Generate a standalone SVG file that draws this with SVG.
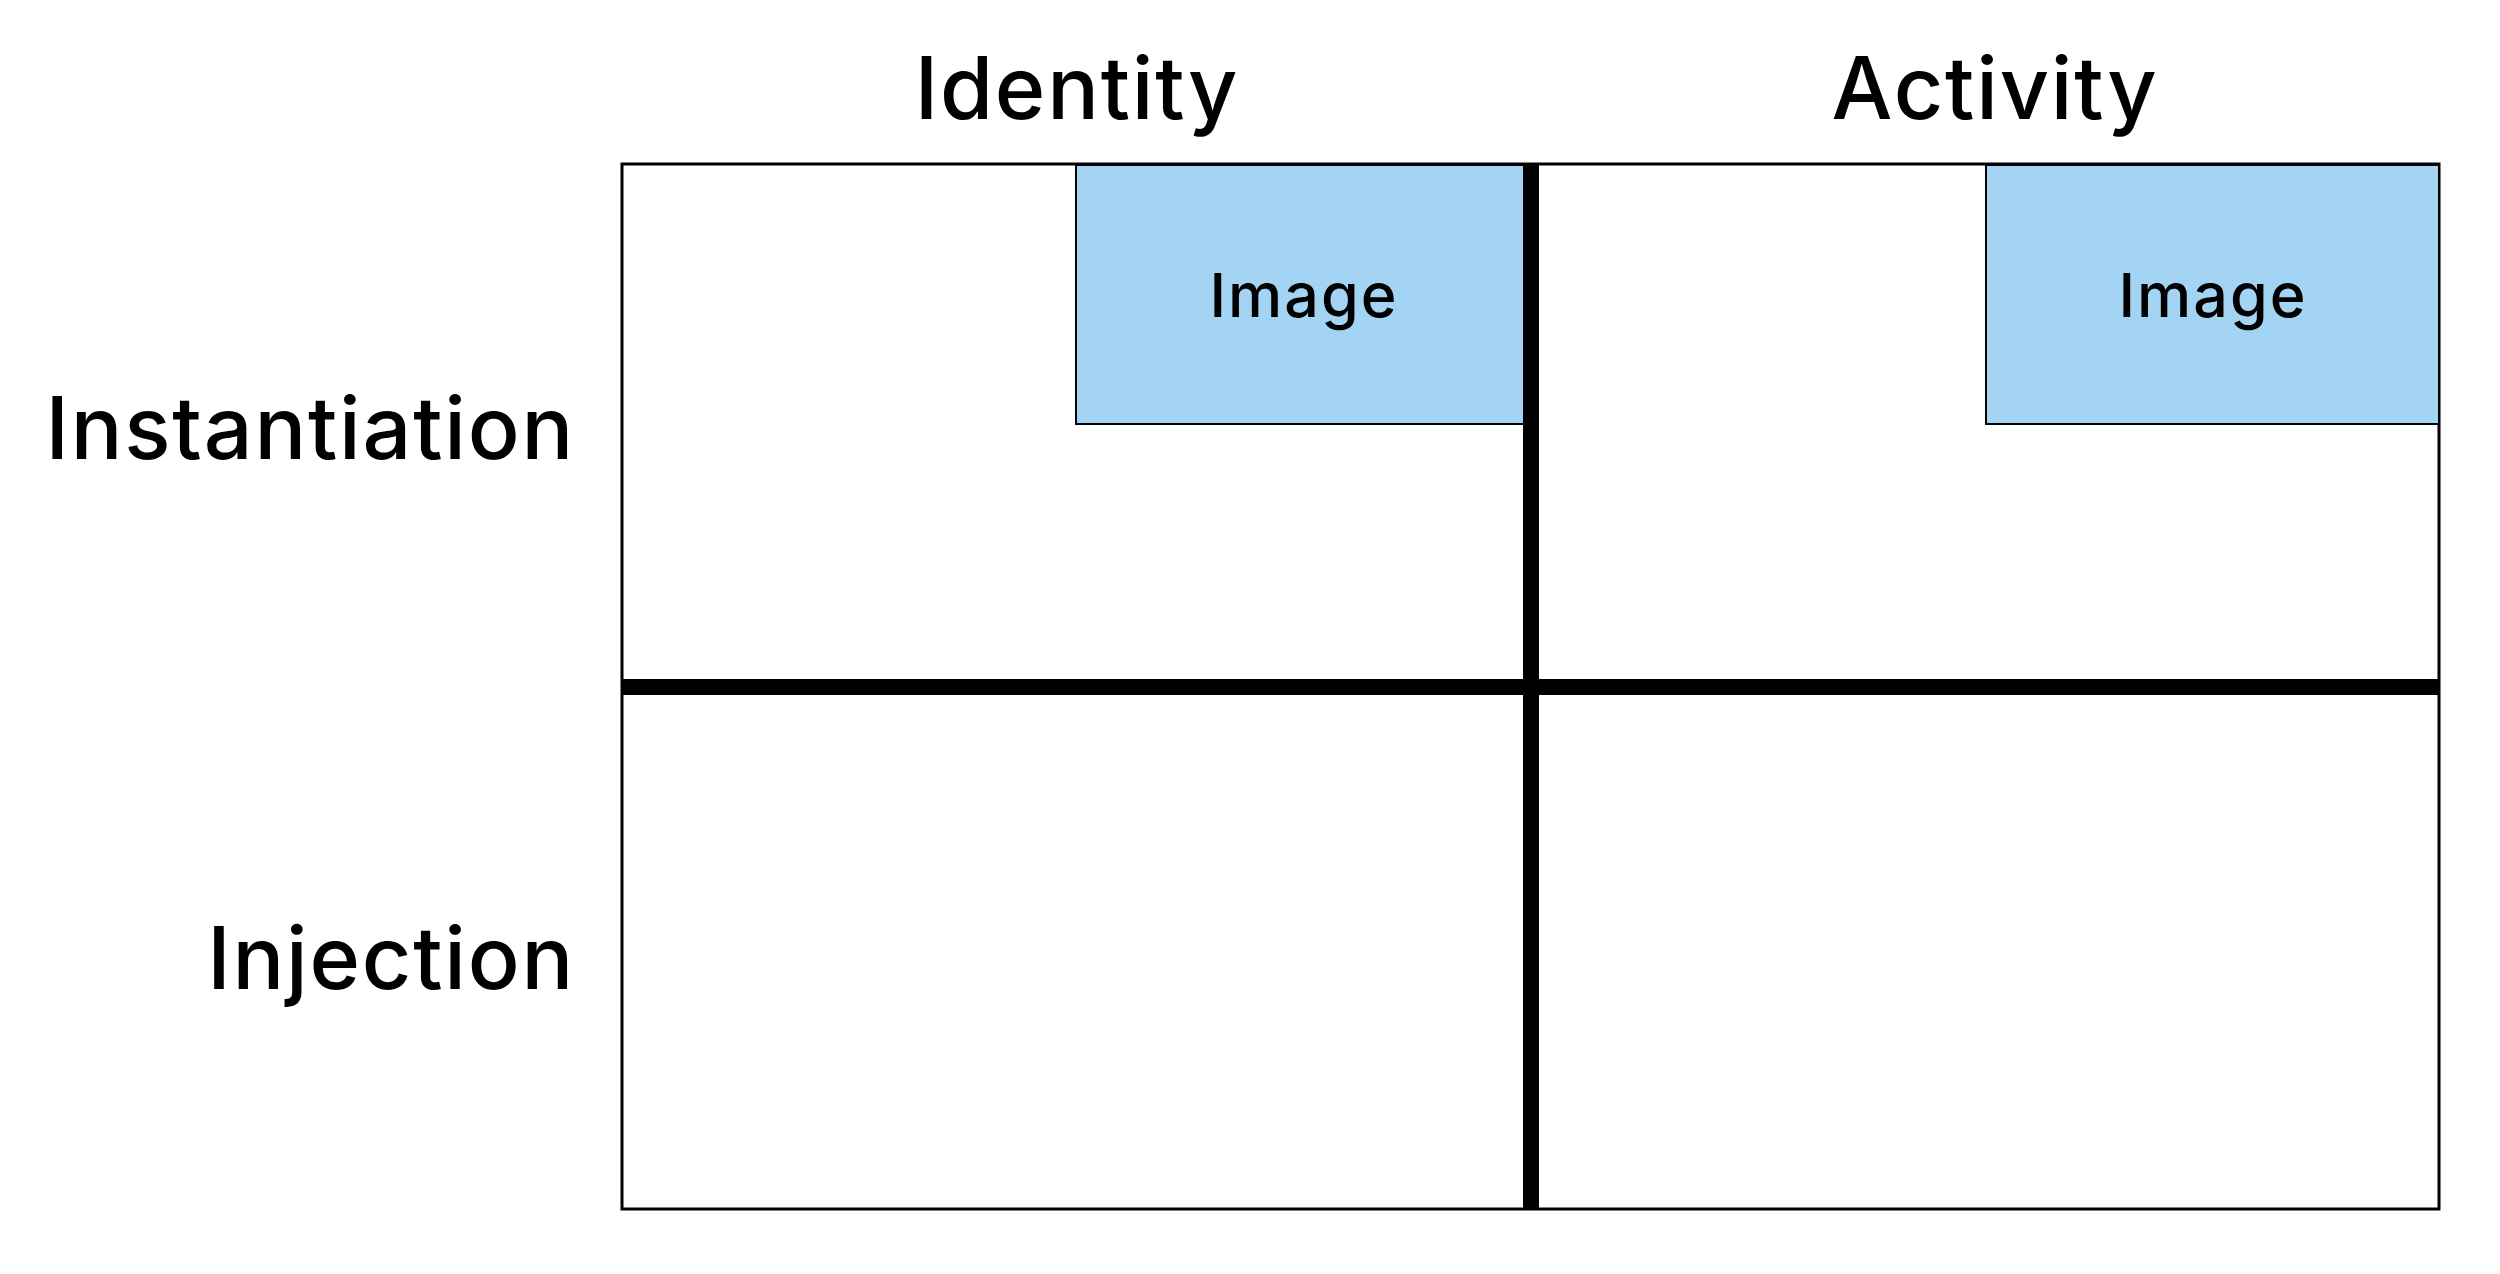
<svg xmlns="http://www.w3.org/2000/svg" width="2500" height="1274" viewBox="0 0 2500 1274">
<style>
.lbl{font-family:Inter,"Noto Sans","Liberation Sans",sans-serif;fill:#000;font-size:86px;font-weight:500;letter-spacing:1.8px}
.img{fill:#A4D4F3;stroke:#000;stroke-width:2}
.imgt{font-family:Inter,"Noto Sans","Liberation Sans",sans-serif;fill:#000;font-size:61px;font-weight:500;text-anchor:middle;letter-spacing:2px}
.div{stroke:#000;stroke-width:16}
</style>
<rect width="2500" height="1274" fill="#fff"/>
<g id="grid">
<rect x="622" y="164" width="1817" height="1045" fill="#fff" stroke="#000" stroke-width="3"/>
</g>
<g id="image-identity">
<rect class="img" x="1076" y="165" width="448" height="259"/>
<text class="imgt" x="1304" y="317">Image</text>
</g>
<g id="image-activity">
<rect class="img" x="1986" y="165" width="453" height="259"/>
<text class="imgt" x="2213" y="317">Image</text>
</g>
<g id="connectors">
<line class="div" x1="1531" y1="164" x2="1531" y2="1209"/>
<line class="div" x1="622" y1="687" x2="2439" y2="687"/>
</g>
<g id="col-identity"><text class="lbl" x="1077" y="119" text-anchor="middle">Identity</text></g>
<g id="col-activity"><text class="lbl" x="1995" y="119" text-anchor="middle">Activity</text></g>
<g id="row-instantiation"><text class="lbl" x="575" y="459" text-anchor="end">Instantiation</text></g>
<g id="row-injection"><text class="lbl" x="575" y="989" text-anchor="end">Injection</text></g>
</svg>
